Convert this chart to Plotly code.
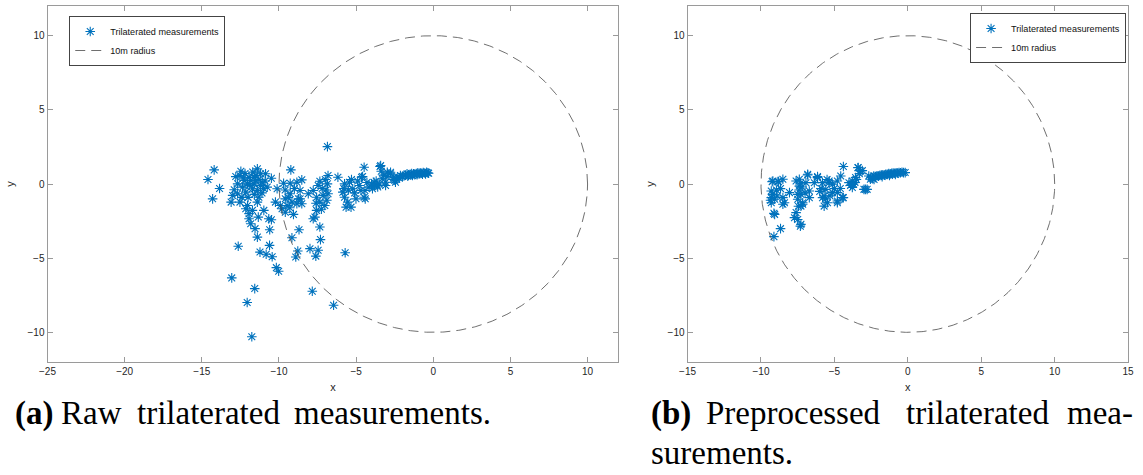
import plotly.graph_objects as go
import numpy as np

# ---- raw trilaterated positions (m) ----
raw_x = [
    -14.6, -14.2, -13.85, -14.3,
    -12.47, -12.53, -12.68, -12.9, -13.0, -13.1, -12.53, -12.15, -12.04, -11.94, -11.4, -11.5,
    -11.19, -10.87, -11.62, -11.4, -11.3, -11.4, -11.72, -11.08, -12.26, -11.83, -10.49, -10.76,
    -12.36, -12.68, -12.04, -12.15, -11.94, -11.72, -11.94, -10.98, -11.34, -11.83, -10.66, -10.49,
    -11.55, -10.6, -11.4,
    -12.8, -12.2, -11.7, -11.3, -11.0, -11.6, -12.4, -11.2, -11.5, -11.9, -12.3, -11.1, -10.9, -11.6, -12.0,
    -9.23, -9.7, -9.27, -8.84, -8.52, -10.12, -10.23, -9.91, -9.59, -9.27, -9.16, -9.48, -8.84, -8.63,
    -9.59, -9.06, -8.7, -9.16, -9.8, -9.4, -9.3, -9.0, -8.74, -8.63, -8.52, -9.6,
    -7.31, -12.64, -10.61, -11.23, -10.83, -10.44, -8.78, -8.91, -7.99, -7.46, -7.61, -5.71,
    -10.17, -10.02, -13.06, -11.57, -7.84, -12.06, -6.46, -11.76,
    -6.86, -6.82, -6.18, -7.35, -7.46, -6.86, -8.1, -7.78, -7.56, -7.35, -7.03, -7.14, -6.82,
    -7.56, -7.67, -7.78, -7.35, -7.2, -6.9, -7.0, -7.6, -7.25, -6.95,
    -5.75, -5.43, -5.22, -4.8, -4.69, -5.86, -5.75, -5.54, -5.33, -5.01, -4.48, -4.58, -4.65,
    -4.48, -4.43, -4.16, -4.41, -5.65, -5.5, -5.1, -4.9, -5.3, -5.8, -4.3, -4.0,
    -3.84, -3.94, -3.63, -3.31, -3.09, -3.45, -3.37, -3.41, -3.09, -3.7, -3.5, -3.2, -3.6, -3.8,
    -3.0, -2.98, -2.77, -2.56, -2.45, -2.77,
    -2.4, -2.3, -2.2, -2.13, -2.0, -1.9, -1.8, -1.7, -1.6, -1.5, -1.4, -1.28, -1.2, -1.1, -1.0,
    -0.92, -0.85, -0.75, -0.65, -0.55, -0.43, -0.35, -0.3, -2.6, -2.5, -1.65, -1.35, -1.05, -0.7, -0.5,
]
raw_y = [
    0.3, 0.95, -0.3, -1.0,
    0.86, 0.57, 0.01, -0.39, -0.77, -1.22, -1.22, -0.55, 0.01, 0.46, 1.02, 0.57,
    0.69, 0.69, 0.01, -0.44, -0.89, -1.22, -0.32, 0.12, 0.24, 0.24, 0.39, -0.21,
    -0.21, -0.66, -1.45, -1.67, -2.0, -1.78, -2.34, -1.78, -2.23, -2.68, -2.34, -2.41,
    -3.01, -3.08, -3.58,
    0.5, 0.7, 0.8, 0.3, -0.3, -0.7, -0.9, -0.1, 0.2, -0.1, 0.4, -0.6, 0.2, 0.45, -0.9,
    0.95, 0.05, 0.05, 0.12, 0.28, -0.32, -1.22, -1.45, -1.0, -0.66, -1.22, -1.45, -1.33, -1.0,
    -1.9, -2.05, -3.08, -3.62, -1.67, -0.9, -1.6, -0.3, -1.0, -0.44, -1.33, -0.4,
    -3.75, -4.2, -4.14, -4.59, -4.74, -4.9, -4.52, -4.92, -4.36, -4.47, -4.86, -4.63,
    -5.64, -5.88, -6.33, -7.05, -7.23, -7.99, -8.17, -10.3,
    2.52, 0.57, 0.46, 0.19, -0.1, 0.01, -0.66, -0.44, -0.89, -1.22, -1.45, -0.77, -0.66,
    -1.78, -2.23, -2.34, -2.9, -0.3, -1.1, 0.3, -1.3, -1.7, -0.4,
    0.01, 0.12, -0.32, -0.1, -0.44, -0.55, -0.89, -1.22, -1.56, -1.0, -0.89, 0.5, 0.46,
    1.13, -0.44, -0.21, -1.0, -1.56, -0.4, -0.6, 0.2, 0.3, -0.3, 0.1, 0.0,
    0.12, -0.32, -0.1, 0.35, 0.12, 1.18, 0.86, 1.24, -0.1, 0.2, 0.0, 0.6, -0.2, -0.1,
    0.5, 0.79, 0.69, 0.46, 0.12, 0.79,
    0.35, 0.45, 0.4, 0.57, 0.5, 0.55, 0.6, 0.69, 0.6, 0.65, 0.7, 0.69, 0.62, 0.7, 0.75,
    0.68, 0.75, 0.72, 0.78, 0.74, 0.79, 0.75, 0.72, 0.3, 0.25, 0.52, 0.58, 0.62, 0.66, 0.68,
]

# ---- preprocessed positions (m) ----
pre_x = [
    -9.24, -8.8, -8.51, -9.3, -9.3, -9.07, -8.67, -8.9, -8.51, -8.4, -8.06, -9.12, -8.67, -9.12,
    -9.19, -8.85, -9.3, -9.07, -8.51, -9.2, -8.95, -9.35,
    -7.39, -6.82, -6.15, -7.39, -7.28, -7.5, -7.16, -6.94, -6.71, -6.71, -7.61, -7.72, -7.5,
    -7.32, -7.28, -7.61, -7.16, -7.28, -7.4, -7.5, -7.2, -7.45, -6.82, -6.15, -7.0, -7.3,
    -6.37, -5.81, -5.59, -5.7, -5.36, -5.47, -5.14, -4.8, -4.8, -4.39, -4.57, -4.39, -5.14,
    -5.36, -5.81, -5.7, -4.8, -4.46, -4.8, -5.9, -5.6, -5.3, -5.0, -4.6, -5.5, -6.0,
    -4.01, -3.78, -3.56, -3.4, -3.22, -3.78, -2.99, -2.77, -2.66, -2.55, -3.38, -3.78, -2.89,
    -3.9, -3.6, -3.5, -3.3, -3.1, -3.7,
    -2.32, -2.2, -2.1, -2.0, -1.9, -1.8, -1.7, -1.6, -1.5, -1.4, -1.3, -1.2, -1.1, -1.0, -0.9,
    -0.8, -0.7, -0.6, -0.5, -0.4, -0.3, -0.18, -2.4, -2.3, -2.5, -1.75, -1.25, -0.85,
]
pre_y = [
    0.16, 0.16, 0.32, -0.47, -1.26, -1.03, -0.31, -0.81, -0.92, -1.26, -0.58, -1.98, -3.01, -3.55,
    0.2, 0.16, -0.92, -2.05, -1.37, -0.7, -0.4, -1.1,
    0.32, 0.66, 0.5, -0.14, -0.7, -1.03, -1.26, 0.09, -0.47, -0.92, -1.93, -2.27, -2.39,
    -2.84, -1.49, 0.2, -1.37, -2.72, -0.4, -0.7, -0.2, -1.5, 0.61, 0.43, -0.6, 0.05,
    0.09, 0.09, -0.36, -0.81, 0.09, -1.26, -0.58, -0.58, -1.15, -0.92, 0.54, 1.18, -0.02,
    0.2, -0.92, -1.49, 0.2, -0.92, -1.26, -0.3, -1.0, -0.8, -0.3, -0.3, 0.3, -0.5,
    0.09, 0.2, 0.43, 1.1, 0.88, -0.24, -0.36, -0.36, 0.54, 0.32, 1.11, -0.02, -0.36,
    -0.1, 0.1, 0.3, 0.7, 0.9, 0.0,
    0.54, 0.5, 0.55, 0.52, 0.58, 0.6, 0.62, 0.6, 0.66, 0.65, 0.7, 0.68, 0.72, 0.74, 0.72,
    0.76, 0.74, 0.78, 0.76, 0.79, 0.77, 0.77, 0.35, 0.3, 0.45, 0.5, 0.58, 0.65,
]

# reference circle
radius_m = 10
theta = np.linspace(0, 2 * np.pi, 721)
circle_x = radius_m * np.cos(theta)
circle_y = radius_m * np.sin(theta)

BLUE = "#0072BD"
W, H = 1143, 475
SANS = "Liberation Sans, Arial, Helvetica, sans-serif"
SERIF = "Liberation Serif, Times New Roman, serif"

marker = dict(symbol="asterisk-open", size=8, color=BLUE, line=dict(color=BLUE, width=1.1))
circle_line = dict(color="#4a4a4a", width=0.8, dash="10px,6px")

fig = go.Figure()
fig.add_trace(go.Scatter(x=raw_x, y=raw_y, mode="markers", marker=marker,
                         name="Trilaterated measurements", xaxis="x", yaxis="y", legend="legend"))
fig.add_trace(go.Scatter(x=circle_x, y=circle_y, mode="lines", line=circle_line,
                         name="10m radius", xaxis="x", yaxis="y", legend="legend"))
fig.add_trace(go.Scatter(x=pre_x, y=pre_y, mode="markers", marker=marker,
                         name="Trilaterated measurements", xaxis="x2", yaxis="y2", legend="legend2"))
fig.add_trace(go.Scatter(x=circle_x, y=circle_y, mode="lines", line=circle_line,
                         name="10m radius", xaxis="x2", yaxis="y2", legend="legend2"))

axis_common = dict(
    showline=True, linecolor="#9a9a9a", linewidth=1, mirror="ticks",
    ticks="inside", ticklen=5, tickcolor="#9a9a9a", tickwidth=1,
    showgrid=False, zeroline=False,
    tickfont=dict(family=SANS, size=10, color="#262626"),
    title_font=dict(family=SANS, size=11, color="#262626"),
)

def px(v):
    return v / W

def py(v):
    return 1 - v / H

legend_common = dict(
    xanchor="left", yanchor="top", bgcolor="white", bordercolor="#444", borderwidth=1,
    font=dict(family=SANS, size=9.1, color="#111"), tracegroupgap=0, itemwidth=30,
)

fig.update_layout(
    width=W, height=H, margin=dict(l=0, r=0, t=0, b=0),
    paper_bgcolor="white", plot_bgcolor="white",
    xaxis=dict(domain=[px(40), px(618)], range=[-25, 12], tickvals=list(range(-25, 11, 5)),
               anchor="y", title=dict(text="x", standoff=7), **axis_common),
    yaxis=dict(domain=[py(362), py(6)], range=[-12, 12], tickvals=[-10, -5, 0, 5, 10],
               anchor="x", title=dict(text="y", standoff=10), **axis_common),
    xaxis2=dict(domain=[px(688), px(1134)], range=[-15, 15], tickvals=list(range(-15, 16, 5)),
                anchor="y2", title=dict(text="x", standoff=7), **axis_common),
    yaxis2=dict(domain=[py(362), py(6)], range=[-12, 12], tickvals=[-10, -5, 0, 5, 10],
                anchor="x2", title=dict(text="y", standoff=10), **axis_common),
    legend=dict(x=px(62), y=py(16), **legend_common),
    legend2=dict(x=px(974), y=py(13), **legend_common),
    showlegend=True,
)

# sub-figure captions, laid out word by word (justified lines)
cap_font = dict(family=SERIF, size=33, color="#000")
captions = [
    ("<b>(a)</b>", 6, 413, "left"),
    ("Raw", 53, 413, "left"),
    ("trilaterated", 130, 413, "left"),
    ("measurements.", 289, 413, "left"),
    ("<b>(b)</b>", 650, 413, "left"),
    ("Preprocessed", 706, 413, "left"),
    ("trilaterated", 908, 413, "left"),
    ("mea-", 1140, 413, "right"),
    ("surements.", 650, 453, "left"),
]
for text, xp, yp, anchor in captions:
    fig.add_annotation(text=text, xref="paper", yref="paper", x=px(xp), y=py(yp),
                       xanchor=anchor, yanchor="middle", showarrow=False, font=cap_font,
                       borderpad=0)

fig.write_html("out.html")
